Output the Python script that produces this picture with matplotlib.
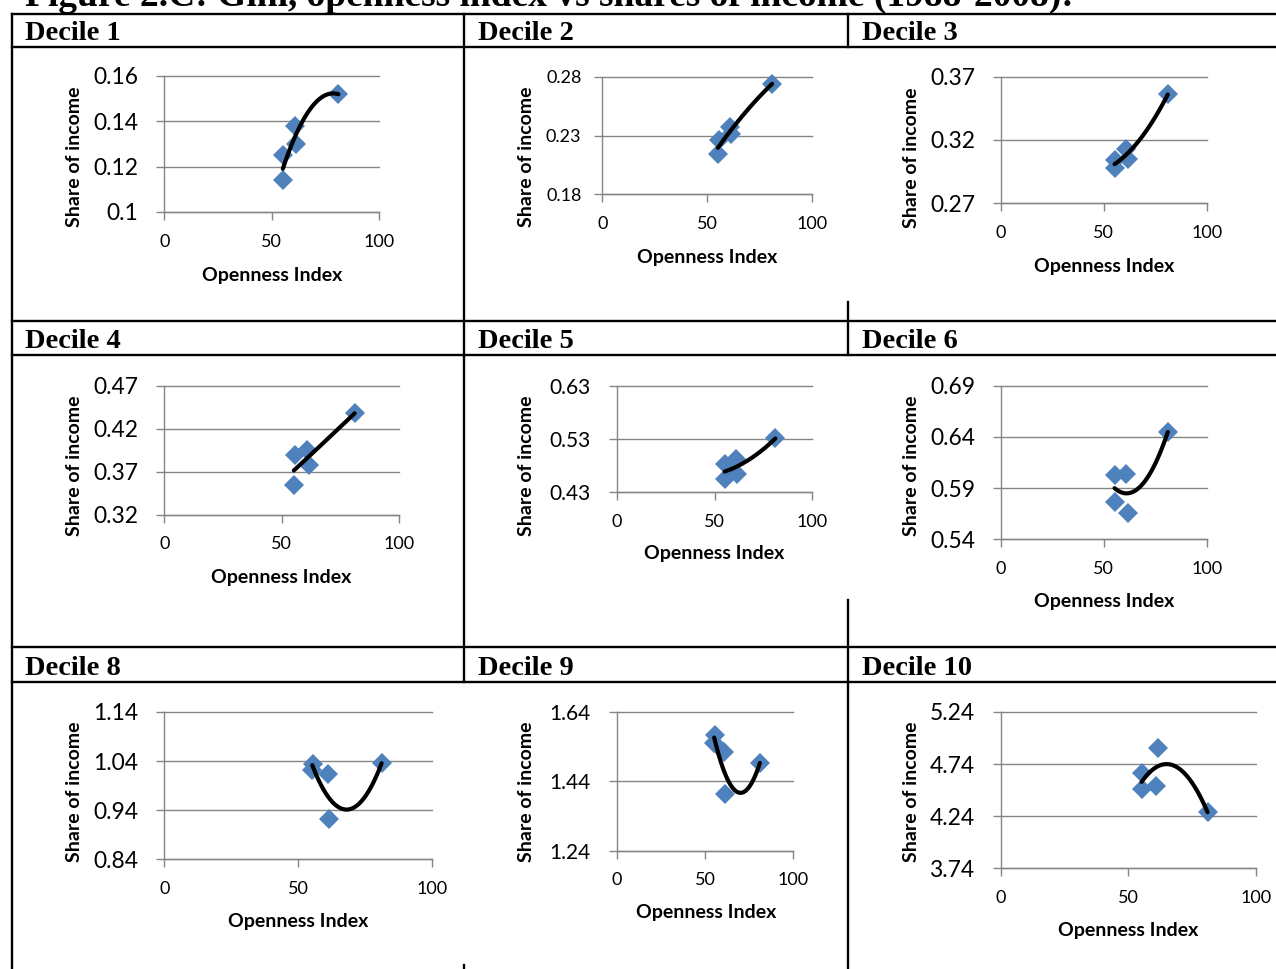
# openness index vs share of income, one small scatter per decile
import numpy as np
import matplotlib
matplotlib.use("Agg")
import matplotlib.pyplot as plt
from matplotlib.lines import Line2D

W, H = 1276, 969

title = "Figure 2.C: Gini, openness index vs shares of income (1988-2008):"
decile_names = ["Decile 1", "Decile 2", "Decile 3", "Decile 4", "Decile 5",
                "Decile 6", "Decile 8", "Decile 9", "Decile 10"]

# openness index (same five observations in every panel)
openness = [55.2, 55.5, 61.0, 61.5, 81.1]

# share of income, one list per decile
share_d1 = [0.114, 0.125, 0.138, 0.130, 0.152]
share_d2 = [0.214, 0.226, 0.237, 0.231, 0.274]
share_d3 = [0.298, 0.304, 0.313, 0.305, 0.356]
share_d4 = [0.355, 0.389, 0.395, 0.378, 0.438]
share_d5 = [0.455, 0.483, 0.492, 0.464, 0.531]
share_d6 = [0.576, 0.603, 0.604, 0.566, 0.645]
share_d8 = [1.022, 1.035, 1.013, 0.922, 1.036]
share_d9 = [1.549, 1.573, 1.525, 1.403, 1.493]
share_d10 = [4.657, 4.498, 4.533, 4.892, 4.277]

# y tick labels per decile
yticks_d1 = ["0.1", "0.12", "0.14", "0.16"]
yticks_d2 = ["0.18", "0.23", "0.28"]
yticks_d3 = ["0.27", "0.32", "0.37"]
yticks_d4 = ["0.32", "0.37", "0.42", "0.47"]
yticks_d5 = ["0.43", "0.53", "0.63"]
yticks_d6 = ["0.54", "0.59", "0.64", "0.69"]
yticks_d8 = ["0.84", "0.94", "1.04", "1.14"]
yticks_d9 = ["1.24", "1.44", "1.64"]
yticks_d10 = ["3.74", "4.24", "4.74", "5.24"]
xticks = ["0", "50", "100"]

shares = [share_d1, share_d2, share_d3, share_d4, share_d5, share_d6,
          share_d8, share_d9, share_d10]
ytick_lists = [yticks_d1, yticks_d2, yticks_d3, yticks_d4, yticks_d5,
               yticks_d6, yticks_d8, yticks_d9, yticks_d10]

# layout in pixels: plot box (x0, x100, ytop, ybot), ylabel baseline x,
# ylabel centre y, xlabel centre x, xlabel baseline y, ytick font size, ytick pad
layout = [
    (164.3, 379.0, 76.0, 212.0, 80.0, 156.7, 271.7, 280.7, 16.4, 13),
    (602.3, 811.7, 76.7, 194.3, 531.7, 156.7, 706.7, 262.7, 13.0, 9.5),
    (1001.0, 1206.7, 76.7, 203.3, 916.7, 157.5, 1104.0, 271.7, 16.4, 13),
    (164.3, 399.0, 385.7, 514.7, 80.0, 465.8, 281.3, 583.3, 16.4, 13),
    (616.7, 812.3, 385.7, 492.3, 531.7, 465.8, 714.3, 559.3, 15.0, 13),
    (1001.0, 1206.7, 385.7, 539.3, 916.7, 465.8, 1104.0, 606.7, 16.4, 13),
    (164.3, 432.3, 712.0, 859.3, 80.0, 791.3, 298.0, 926.7, 16.4, 13),
    (616.7, 793.3, 711.7, 850.7, 531.7, 791.3, 705.7, 917.7, 15.0, 13),
    (1001.0, 1255.7, 712.0, 868.3, 916.7, 791.3, 1128.3, 936.0, 16.4, 13),
]
header_pos = [(25, 39.5), (478, 39.5), (862, 39.5),
              (25, 348.3), (478, 348.3), (862, 348.3),
              (25, 675.0), (478, 675.0), (862, 675.0)]

blue = "#4F81BD"
grey = "#868686"
sans = "Lato"
serif = "Liberation Serif"

fig = plt.figure(figsize=(W / 100, H / 100), dpi=100)
fig.patch.set_facecolor("white")


def fx(px):
    return px / W


def fy(py):
    return 1 - py / H


for name, ys, ylab, lay, hp in zip(decile_names, shares, ytick_lists, layout, header_pos):
    x0, x100, ytop, ybot, ylx, yly, xlx, xly, yfs, ypad = lay
    ax = fig.add_axes([fx(x0), fy(ybot), (x100 - x0) / W, (ybot - ytop) / H])
    yvals = [float(v) for v in ylab]
    ax.set_xlim(0, 100)
    ax.set_ylim(yvals[0], yvals[-1])
    ax.set_xticks([float(v) for v in xticks])
    ax.set_xticklabels(xticks, fontsize=13, family=sans)
    ax.set_yticks(yvals)
    ax.set_yticklabels(ylab, fontsize=yfs, family=sans)
    ax.tick_params(axis="x", direction="out", length=5.5, width=1, color=grey, pad=10)
    ax.tick_params(axis="y", direction="out", length=5.5, width=1, color=grey, pad=ypad)
    for s in ["top", "right"]:
        ax.spines[s].set_visible(False)
    for s in ["left", "bottom"]:
        ax.spines[s].set_color(grey)
        ax.spines[s].set_linewidth(1.0)
    ax.yaxis.grid(True, color=grey, lw=1.0)
    for gl in ax.get_ygridlines():
        gl.set_clip_on(False)
    ax.set_axisbelow(True)
    ax.patch.set_alpha(0)

    ax.plot(openness, ys, "D", color=blue, ms=9.8, mew=0, clip_on=False, zorder=3)
    # polynomial (order 2) trend line over the data range
    coef = np.polyfit(openness, ys, 2)
    xs = np.linspace(min(openness), max(openness), 200)
    ax.plot(xs, np.polyval(coef, xs), color="black", lw=3, solid_capstyle="round",
            clip_on=False, zorder=4)

    fig.text(fx(xlx), fy(xly), "Openness Index", ha="center", va="baseline",
             fontsize=14, fontweight="bold", family=sans)
    fig.text(fx(ylx), fy(yly), "Share of income", ha="center", va="baseline",
             rotation=90, rotation_mode="anchor", fontsize=14,
             fontweight="bold", family=sans)

    fig.text(fx(hp[0]), fy(hp[1]), name, ha="left", va="baseline",
             fontsize=20.5, fontweight="bold", family=serif)

# title sits mostly above the page edge, as in the scan
fig.text(fx(25), fy(6), title, ha="left", va="baseline", fontsize=27,
         fontweight="bold", family=serif)

# table rules
segments = [
    ((12, 14), (1276, 14)), ((12, 46.5), (1276, 46.5)),
    ((12, 320.5), (1276, 320.5)), ((12, 354.5), (1276, 354.5)),
    ((12, 647), (1276, 647)), ((12, 682), (1276, 682)),
    ((12, 14), (12, 969)),
    ((464, 14), (464, 682)), ((464, 965), (464, 969)),
    ((848, 14), (848, 47)), ((848, 302), (848, 355)), ((848, 600), (848, 969)),
]
for (xa, ya), (xb, yb) in segments:
    fig.add_artist(Line2D([fx(xa), fx(xb)], [fy(ya), fy(yb)], color="black",
                          lw=1.7, transform=fig.transFigure))

fig.savefig("out.png", dpi=100)
